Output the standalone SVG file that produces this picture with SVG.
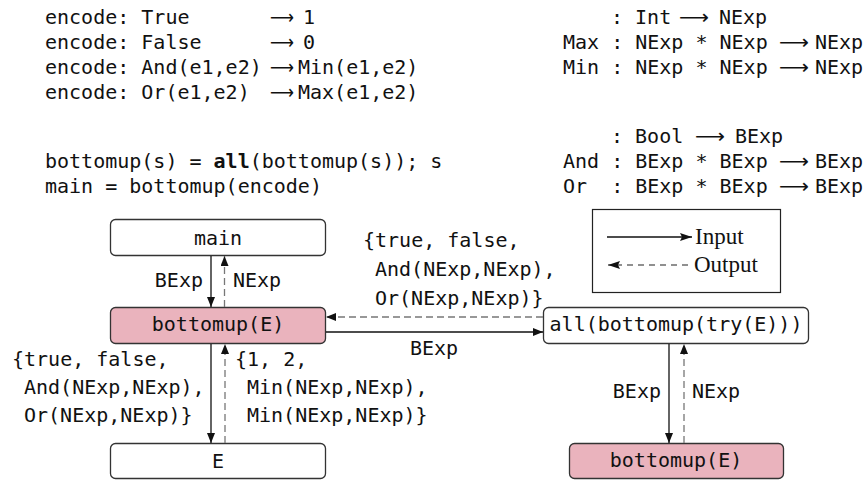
<svg xmlns="http://www.w3.org/2000/svg" width="864" height="480" viewBox="0 0 864 480">
  <style>
    .code { font-family: "DejaVu Sans Mono", "Liberation Mono", monospace; font-size: 20px; fill: #111; white-space: pre; }
    .arr { font-family: "DejaVu Sans", "Liberation Serif", serif; font-size: 20px; fill: #111; }
    .serif { font-family: "Liberation Serif", "DejaVu Serif", serif; font-size: 23px; fill: #111; }
    .box { fill: #ffffff; stroke: #333333; stroke-width: 1.3; }
    .hot { fill: #eab3bd; stroke: #333333; stroke-width: 1.3; }
    .in { stroke: #111111; stroke-width: 1.3; fill: none; }
    .out { stroke: #777777; stroke-width: 1.3; fill: none; stroke-dasharray: 7 4; }
    .key-out { stroke: #222222; stroke-width: 1.2; fill: none; stroke-dasharray: 6 5; }
    .mid { text-anchor: middle; }
    .end { text-anchor: end; }
  </style>
  <defs>
    <marker id="tip" viewBox="0 0 10 8" refX="10" refY="4" markerWidth="10" markerHeight="8" markerUnits="userSpaceOnUse" orient="auto">
      <path d="M0,0 L10,4 L0,8 Z" fill="#111111"/>
    </marker>
    <marker id="key-tip" viewBox="0 0 12 8" refX="12" refY="4" markerWidth="12" markerHeight="8" markerUnits="userSpaceOnUse" orient="auto">
      <path d="M0,0 L12,4 L0,8 L2,4 Z" fill="#111111"/>
    </marker>
  </defs>

  <!-- encoding rules -->
  <g id="rules">
    <text class="code" x="45" y="24">encode: True</text>
    <text class="arr" x="270" y="24" textLength="24" lengthAdjust="spacingAndGlyphs">⟶</text>
    <text class="code" x="303" y="24">1</text>
    <text class="code" x="45" y="49">encode: False</text>
    <text class="arr" x="270" y="49" textLength="24" lengthAdjust="spacingAndGlyphs">⟶</text>
    <text class="code" x="303" y="49">0</text>
    <text class="code" x="45" y="74">encode: And(e1,e2)</text>
    <text class="arr" x="270" y="74" textLength="24" lengthAdjust="spacingAndGlyphs">⟶</text>
    <text class="code" x="298" y="74">Min(e1,e2)</text>
    <text class="code" x="45" y="99">encode: Or(e1,e2)</text>
    <text class="arr" x="270" y="99" textLength="24" lengthAdjust="spacingAndGlyphs">⟶</text>
    <text class="code" x="298" y="99">Max(e1,e2)</text>
    <text class="code" x="45" y="168">bottomup(s) = <tspan font-weight="bold">all</tspan>(bottomup(s)); s</text>
    <text class="code" x="45" y="193">main = bottomup(encode)</text>
  </g>

  <!-- signatures -->
  <g id="signatures">
    <text class="code" x="611" y="24">: Int</text>
    <text class="arr" x="679" y="24" textLength="30" lengthAdjust="spacingAndGlyphs">⟶</text>
    <text class="code" x="719" y="24">NExp</text>
    <text class="code" x="563" y="49">Max : NExp * NExp</text>
    <text class="arr" x="779" y="49" textLength="30" lengthAdjust="spacingAndGlyphs">⟶</text>
    <text class="code" x="815" y="49">NExp</text>
    <text class="code" x="563" y="74">Min : NExp * NExp</text>
    <text class="arr" x="779" y="74" textLength="30" lengthAdjust="spacingAndGlyphs">⟶</text>
    <text class="code" x="815" y="74">NExp</text>
    <text class="code" x="611" y="143">: Bool</text>
    <text class="arr" x="695" y="143" textLength="30" lengthAdjust="spacingAndGlyphs">⟶</text>
    <text class="code" x="735" y="143">BExp</text>
    <text class="code" x="563" y="168">And : BExp * BExp</text>
    <text class="arr" x="779" y="168" textLength="30" lengthAdjust="spacingAndGlyphs">⟶</text>
    <text class="code" x="815" y="168">BExp</text>
    <text class="code" x="563" y="193">Or  : BExp * BExp</text>
    <text class="arr" x="779" y="193" textLength="30" lengthAdjust="spacingAndGlyphs">⟶</text>
    <text class="code" x="815" y="193">BExp</text>
  </g>

  <!-- legend -->
  <g id="legend">
    <rect x="592.5" y="209.5" width="188" height="83" fill="#ffffff" stroke="#222222" stroke-width="1.2"/>
    <line class="in" x1="607" y1="237" x2="692" y2="237" marker-end="url(#key-tip)"/>
    <text class="serif" x="695" y="244">Input</text>
    <line class="key-out" x1="688" y1="265" x2="608" y2="265" marker-end="url(#key-tip)"/>
    <text class="serif" x="694" y="272">Output</text>
  </g>

  <!-- nodes -->
  <g id="node-main">
    <rect class="box" x="110.5" y="219.5" width="215" height="36" rx="5"/>
    <text class="code mid" x="218" y="245">main</text>
  </g>
  <g id="node-bottomup-left">
    <rect class="hot" x="110.5" y="307.5" width="215" height="36" rx="5"/>
    <text class="code mid" x="218" y="331">bottomup(E)</text>
  </g>
  <g id="node-e">
    <rect class="box" x="110.5" y="443.5" width="215" height="35" rx="5"/>
    <text class="code mid" x="218" y="468">E</text>
  </g>
  <g id="node-all">
    <rect class="box" x="543.5" y="307.5" width="265" height="36" rx="5"/>
    <text class="code mid" x="676" y="331">all(bottomup(try(E)))</text>
  </g>
  <g id="node-bottomup-right">
    <rect class="hot" x="569.5" y="443.5" width="214" height="35" rx="5"/>
    <text class="code mid" x="676" y="467">bottomup(E)</text>
  </g>

  <!-- connectors -->
  <g id="connectors">
    <line class="in" x1="211" y1="256" x2="211" y2="307" marker-end="url(#tip)"/>
    <line class="out" x1="224.5" y1="307" x2="224.5" y2="256" marker-end="url(#tip)"/>
    <line class="in" x1="211" y1="344" x2="211" y2="443" marker-end="url(#tip)"/>
    <line class="out" x1="225" y1="443" x2="225" y2="344" marker-end="url(#tip)"/>
    <line class="out" x1="543" y1="317" x2="326" y2="317" marker-end="url(#tip)"/>
    <line class="in" x1="326" y1="332" x2="543" y2="332" marker-end="url(#tip)"/>
    <line class="in" x1="669" y1="344" x2="669" y2="443" marker-end="url(#tip)"/>
    <line class="out" x1="684" y1="443" x2="684" y2="344" marker-end="url(#tip)"/>
  </g>

  <!-- connector labels -->
  <g id="labels">
    <text class="code end" x="203" y="287">BExp</text>
    <text class="code" x="233" y="287">NExp</text>
    <text class="code" x="363" y="247">{true, false,</text>
    <text class="code" x="375" y="276">And(NExp,NExp),</text>
    <text class="code" x="375" y="305">Or(NExp,NExp)}</text>
    <text class="code" x="410" y="355">BExp</text>
    <text class="code" x="12" y="366">{true, false,</text>
    <text class="code" x="24" y="394">And(NExp,NExp),</text>
    <text class="code" x="24" y="422">Or(NExp,NExp)}</text>
    <text class="code" x="235" y="366">{1, 2,</text>
    <text class="code" x="247" y="394">Min(NExp,NExp),</text>
    <text class="code" x="247" y="422">Min(NExp,NExp)}</text>
    <text class="code end" x="661" y="398">BExp</text>
    <text class="code" x="692" y="398">NExp</text>
  </g>
</svg>
